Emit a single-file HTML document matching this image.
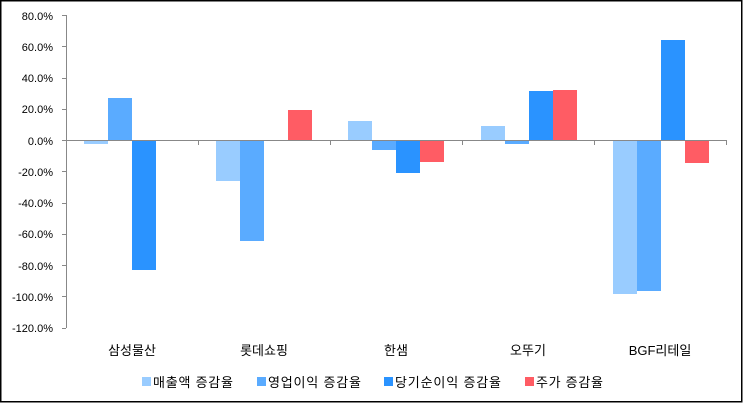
<!DOCTYPE html>
<html><head><meta charset="utf-8"><style>body{margin:0;background:#fff}svg{display:block}text{font-family:"Liberation Sans","Noto Sans CJK KR",sans-serif}</style></head><body>
<svg width="743" height="403" xmlns="http://www.w3.org/2000/svg">
<rect x="0.75" y="0.75" width="741" height="401" fill="#fff" stroke="#000" stroke-width="1.5"/>
<g fill="#000" font-size="11" text-anchor="end" style="font-family:'DejaVu Sans',sans-serif">
<text x="53" y="20">80.0%</text><text x="53" y="51">60.0%</text><text x="53" y="82">40.0%</text><text x="53" y="113">20.0%</text><text x="53" y="145">0.0%</text><text x="53" y="176">-20.0%</text><text x="53" y="207">-40.0%</text><text x="53" y="238">-60.0%</text><text x="53" y="270">-80.0%</text><text x="53" y="301">-100.0%</text><text x="53" y="332">-120.0%</text>
</g>
<g stroke="#888" stroke-width="1">
<line x1="66.5" y1="15" x2="66.5" y2="328"/>
<line x1="62" y1="15.5" x2="66" y2="15.5"/><line x1="62" y1="46.5" x2="66" y2="46.5"/><line x1="62" y1="78.5" x2="66" y2="78.5"/><line x1="62" y1="109.5" x2="66" y2="109.5"/><line x1="62" y1="140.5" x2="66" y2="140.5"/><line x1="62" y1="171.5" x2="66" y2="171.5"/><line x1="62" y1="203.5" x2="66" y2="203.5"/><line x1="62" y1="234.5" x2="66" y2="234.5"/><line x1="62" y1="265.5" x2="66" y2="265.5"/><line x1="62" y1="296.5" x2="66" y2="296.5"/><line x1="62" y1="328.5" x2="66" y2="328.5"/>
</g>
<g>
<rect x="84" y="140" width="24" height="4" fill="#99ccff"/>
<rect x="108" y="98" width="24" height="42" fill="#5aabff"/>
<rect x="132" y="140" width="24" height="130" fill="#2a93ff"/>
<rect x="216" y="140" width="24" height="41" fill="#99ccff"/>
<rect x="240" y="140" width="24" height="101" fill="#5aabff"/>
<rect x="288" y="110" width="24" height="30" fill="#ff5c64"/>
<rect x="348" y="121" width="24" height="19" fill="#99ccff"/>
<rect x="372" y="140" width="24" height="10" fill="#5aabff"/>
<rect x="396" y="140" width="24" height="33" fill="#2a93ff"/>
<rect x="420" y="140" width="24" height="22" fill="#ff5c64"/>
<rect x="481" y="126" width="24" height="14" fill="#99ccff"/>
<rect x="505" y="140" width="24" height="4" fill="#5aabff"/>
<rect x="529" y="91" width="24" height="49" fill="#2a93ff"/>
<rect x="553" y="90" width="24" height="50" fill="#ff5c64"/>
<rect x="613" y="140" width="24" height="154" fill="#99ccff"/>
<rect x="637" y="140" width="24" height="151" fill="#5aabff"/>
<rect x="661" y="40" width="24" height="100" fill="#2a93ff"/>
<rect x="685" y="140" width="24" height="23" fill="#ff5c64"/>
</g>
<g stroke="#888" stroke-width="1">
<line x1="66" y1="140.5" x2="726" y2="140.5"/>
<line x1="198.5" y1="140" x2="198.5" y2="145"/><line x1="330.5" y1="140" x2="330.5" y2="145"/><line x1="462.5" y1="140" x2="462.5" y2="145"/><line x1="594.5" y1="140" x2="594.5" y2="145"/><line x1="726.5" y1="140" x2="726.5" y2="145"/>
</g>
<g fill="#000" font-size="13" text-anchor="middle">
<text x="132" y="355">삼성물산</text><text x="264" y="355">롯데쇼핑</text><text x="396" y="355">한샘</text><text x="528" y="355">오뚜기</text><text x="660" y="355">BGF리테일</text>
</g>
<g font-size="13" fill="#000">
<rect x="142" y="377" width="9" height="9" fill="#99ccff"/><text x="153" y="387" textLength="80">매출액 증감율</text>
<rect x="257" y="377" width="9" height="9" fill="#5aabff"/><text x="268" y="387" textLength="93">영업이익 증감율</text>
<rect x="384" y="377" width="9" height="9" fill="#2a93ff"/><text x="395" y="387" textLength="106">당기순이익 증감율</text>
<rect x="525" y="377" width="9" height="9" fill="#ff5c64"/><text x="536" y="387" textLength="67">주가 증감율</text>
</g>
</svg>
</body></html>
